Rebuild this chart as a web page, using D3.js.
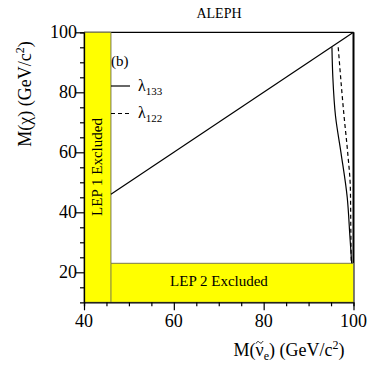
<!DOCTYPE html>
<html><head><meta charset="utf-8">
<script src="https://cdn.jsdelivr.net/npm/d3@7"></script>
<style>body{margin:0;background:#fff}</style>
</head><body><svg id="c" width="379" height="367" font-family="'Liberation Serif','DejaVu Serif',serif"></svg>
<script>
const xMajor=[40,60,80,100];
const yMajor=[20,40,60,80,100];
const lep1Limit=46; // LEP 1 excluded below this sneutrino mass
const lep2Limit=23; // LEP 2 excluded below this chi mass
const diagonal=[[46,46],[100,100]];
const lam133=[[95.2,95],[95.4,85],[96.0,72],[97.2,60],[98.6,45],[99.2,32],[99.6,23]];
const lam122=[[96.6,95],[97.9,72],[98.7,60],[99.3,48],[99.4,35],[99.5,23]];

const svg=d3.select("#c");
const x=d3.scaleLinear().domain([40,100]).range([84,353.5]);
const y=d3.scaleLinear().domain([10,100]).range([302.3,32.3]);

svg.append("line").attr("x1",x(40)).attr("x2",x(100)).attr("y1",y(100)).attr("y2",y(100)).attr("stroke","#000").attr("stroke-width",1.3);
svg.append("line").attr("x1",x(100)).attr("x2",x(100)).attr("y1",y(100)).attr("y2",y(10)).attr("stroke","#000").attr("stroke-width",2);

svg.append("path").attr("d",`M${x(40)},${y(10)}L${x(40)},${y(100)}L${x(lep1Limit)},${y(100)}L${x(lep1Limit)},${y(lep2Limit)}L${x(100)},${y(lep2Limit)}L${x(100)},${y(10)}Z`)
  .attr("fill","#ffff00").attr("stroke","#7a7a50").attr("stroke-width",1);
svg.append("line").attr("x1",x(lep1Limit)).attr("x2",x(lep1Limit)).attr("y1",y(lep2Limit)).attr("y2",y(10)).attr("stroke","#7a7a50").attr("stroke-width",1);

const xAxis=svg.append("g").attr("transform",`translate(0,${y(10)})`);
xAxis.call(d3.axisBottom(x).tickValues(d3.range(40,101,5)).tickSize(4).tickFormat(""));
xAxis.call(g=>g.selectAll(".tick line").filter(d=>xMajor.includes(d)).attr("y2",8));
xAxis.selectAll(".domain").attr("stroke-width",1.3);
const yAxis=svg.append("g").attr("transform",`translate(${x(40)},0)`);
yAxis.call(d3.axisLeft(y).tickValues(d3.range(15,101,5)).tickSize(4).tickFormat(""));
yAxis.call(g=>g.selectAll(".tick line").filter(d=>yMajor.includes(d)).attr("x2",-8));
yAxis.selectAll(".domain").attr("stroke-width",1.3);
svg.selectAll(".tick line").attr("stroke-width",1.2);

svg.selectAll(".xl").data(xMajor).enter().append("text").attr("x",d=>x(d)).attr("y",327).attr("text-anchor","middle").attr("font-size",18).text(d=>d);
svg.selectAll(".yl").data(yMajor).enter().append("text").attr("x",77).attr("y",d=>y(d)+6).attr("text-anchor","end").attr("font-size",18).text(d=>d);

const line=d3.line().x(d=>x(d[0])).y(d=>y(d[1]));
svg.append("path").attr("d",line(diagonal)).attr("fill","none").attr("stroke","#000").attr("stroke-width",1.2);
const cl=d3.line().x(d=>x(d[0])).y(d=>y(d[1])).curve(d3.curveMonotoneY);
svg.append("path").attr("d",cl(lam133)).attr("fill","none").attr("stroke","#000").attr("stroke-width",1.2);
svg.append("path").attr("d",cl(lam122)).attr("fill","none").attr("stroke","#000").attr("stroke-width",1.2).attr("stroke-dasharray","4,3");

svg.append("text").attr("x",111).attr("y",66).attr("font-size",15).text("(b)");
svg.append("line").attr("x1",111).attr("x2",130).attr("y1",86).attr("y2",86).attr("stroke","#000").attr("stroke-width",1.2);
svg.append("line").attr("x1",111).attr("x2",130).attr("y1",113.5).attr("y2",113.5).attr("stroke","#000").attr("stroke-width",1.2).attr("stroke-dasharray","4,3");
const l1=svg.append("text").attr("x",138).attr("y",91).attr("font-size",16);
l1.append("tspan").text("λ");l1.append("tspan").attr("font-size",11).attr("dy",4).text("133");
const l2=svg.append("text").attr("x",138).attr("y",118).attr("font-size",16);
l2.append("tspan").text("λ");l2.append("tspan").attr("font-size",11).attr("dy",4).text("122");

svg.append("text").attr("x",219).attr("y",18).attr("text-anchor","middle").attr("font-size",14).text("ALEPH");
svg.append("text").attr("transform","translate(102,167) rotate(-90)").attr("text-anchor","middle").attr("font-size",15).text("LEP 1 Excluded");
svg.append("text").attr("x",219).attr("y",286).attr("text-anchor","middle").attr("font-size",15).text("LEP 2 Excluded");
const xt=svg.append("text").attr("x",289).attr("y",356).attr("text-anchor","middle").attr("font-size",18);
xt.append("tspan").text("M(");xt.append("tspan").text("ν");xt.append("tspan").attr("font-size",12).attr("dy",4).text("e");
xt.append("tspan").attr("dy",-4).text(") (GeV/c");xt.append("tspan").attr("font-size",12).attr("dy",-7).text("2");xt.append("tspan").attr("dy",7).text(")");
const txt=xt.node();
const p0=txt.getStartPositionOfChar(2), p1=txt.getEndPositionOfChar(2);
const cx=(p0.x+p1.x)/2, cy=p0.y-13.5;
svg.append("path").attr("d",`M${cx-3.5},${cy+1}C${cx-2},${cy-2} ${cx-1},${cy-1} ${cx},${cy}S${cx+2},${cy+1} ${cx+3.5},${cy-1.5}`)
  .attr("fill","none").attr("stroke","#000").attr("stroke-width",0.9);
const yt=svg.append("text").attr("transform","translate(31,94) rotate(-90)").attr("text-anchor","middle").attr("font-size",18);
yt.append("tspan").text("M(χ) (GeV/c");yt.append("tspan").attr("font-size",12).attr("dy",-7).text("2");yt.append("tspan").attr("dy",7).text(")");
</script></body></html>
